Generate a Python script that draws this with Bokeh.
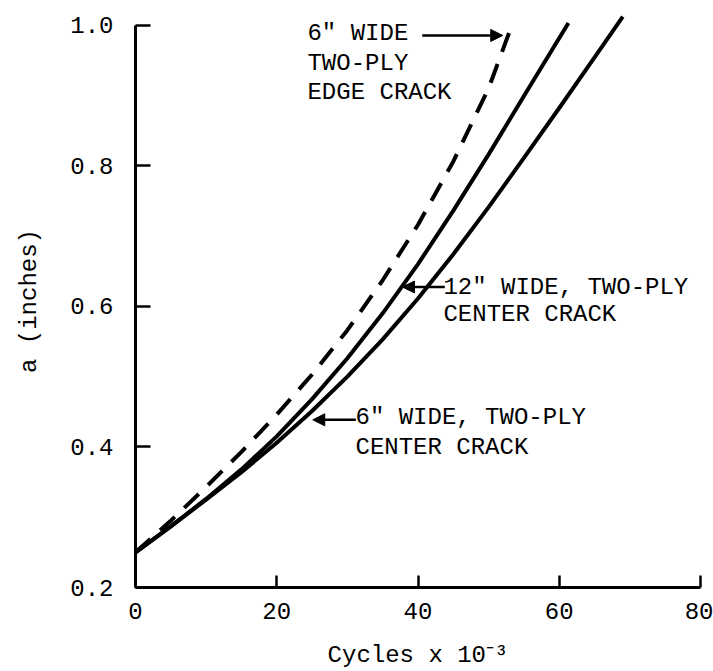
from bokeh.plotting import figure
from bokeh.models import Range1d, FixedTicker, Label, Arrow, NormalHead
from bokeh.embed import file_html
from bokeh.resources import INLINE

# ---- data ----
cycles_edge6 = [0, 5, 10, 15, 20, 25, 30, 35, 40, 45, 50, 53.3]
a_edge6 = [0.25, 0.295, 0.343, 0.393, 0.446, 0.503, 0.566, 0.637, 0.716, 0.806, 0.91, 1.0]

cycles_center12 = [0, 5, 10, 15, 20, 25, 30, 35, 40, 45, 50, 55, 61.3]
a_center12 = [0.25, 0.287, 0.326, 0.368, 0.415, 0.468, 0.526, 0.59, 0.66, 0.736, 0.816, 0.899, 1.003]

cycles_center6 = [0, 5, 10, 15, 20, 25, 30, 35, 40, 45, 50, 55, 60, 65, 69]
a_center6 = [0.25, 0.287, 0.325, 0.364, 0.406, 0.451, 0.5, 0.553, 0.611, 0.674, 0.741, 0.811, 0.882, 0.954, 1.012]

x_ticks = [0, 20, 40, 60, 80]
y_ticks = [0.2, 0.4, 0.6, 0.8, 1.0]
y_tick_labels = ["0.2", "0.4", "0.6", "0.8", "1.0"]

FONT = "Liberation Mono"

p = figure(width=713, height=671, output_backend="svg", toolbar_location=None,
           x_range=Range1d(0, 80), y_range=Range1d(0.2, 1.015),
           min_border_left=135, min_border_right=13, min_border_top=14,
           min_border_bottom=83)
p.outline_line_color = None
p.xgrid.visible = False
p.ygrid.visible = False
p.background_fill_color = "white"
p.border_fill_color = "white"

for ax in (p.xaxis[0], p.yaxis[0]):
    ax.axis_line_width = 3
    ax.axis_line_color = "black"
    ax.major_tick_line_width = 2.5
    ax.major_tick_line_color = "black"
    ax.minor_tick_line_color = None
    ax.major_tick_out = 0
    ax.major_label_text_font = FONT
    ax.major_label_text_font_size = "24px"
    ax.major_label_text_color = "black"
    ax.axis_label_text_font = FONT
    ax.axis_label_text_font_size = "24px"
    ax.axis_label_text_font_style = "normal"
    ax.axis_label_text_color = "black"

p.xaxis[0].ticker = FixedTicker(ticks=x_ticks)
p.xaxis[0].bounds = (0, 80)
p.xaxis[0].major_tick_in = 12
p.xaxis[0].major_label_standoff = 15
p.xaxis[0].axis_label = "Cycles x 10\u207b\u00b3"
p.xaxis[0].axis_label_standoff = 20

p.yaxis[0].ticker = FixedTicker(ticks=y_ticks)
p.yaxis[0].bounds = (0.2, 1.0)
p.yaxis[0].major_tick_in = 15
p.yaxis[0].major_label_standoff = 22
p.yaxis[0].major_label_overrides = {t: l for t, l in zip(y_ticks, y_tick_labels)}
p.yaxis[0].axis_label = "a (inches)"
p.yaxis[0].axis_label_standoff = 24

# ---- curves ----
p.line(cycles_edge6, a_edge6, line_color="black", line_width=4, line_dash="20 13")
p.line(cycles_center12, a_center12, line_color="black", line_width=4)
p.line(cycles_center6, a_center6, line_color="black", line_width=4)

# ---- annotations ----
def add_text(x, y, s):
    p.add_layout(Label(x=x, y=y, text=s, text_font=FONT, text_font_size="24px",
                       text_baseline="middle", text_align="left", text_color="black"))

add_text(24.35, 0.988, '6" WIDE')
add_text(24.35, 0.9454, "TWO-PLY")
add_text(24.35, 0.9043, "EDGE CRACK")

add_text(43.6, 0.6274, '12" WIDE, TWO-PLY')
add_text(43.6, 0.5876, "CENTER CRACK")

add_text(31.15, 0.4414, '6" WIDE, TWO-PLY')
add_text(31.15, 0.3988, "CENTER CRACK")

def add_arrow(x0, x1, y):
    p.add_layout(Arrow(x_start=x0, y_start=y, x_end=x1, y_end=y, line_width=2.5,
                       line_color="black",
                       end=NormalHead(size=12, fill_color="black", line_color="black",
                                      line_width=1)))

add_arrow(40.6, 52.0, 0.9852)
add_arrow(43.8, 37.8, 0.6274)
add_arrow(31.2, 25.1, 0.4385)

open("out.html", "w").write(file_html(p, INLINE))
